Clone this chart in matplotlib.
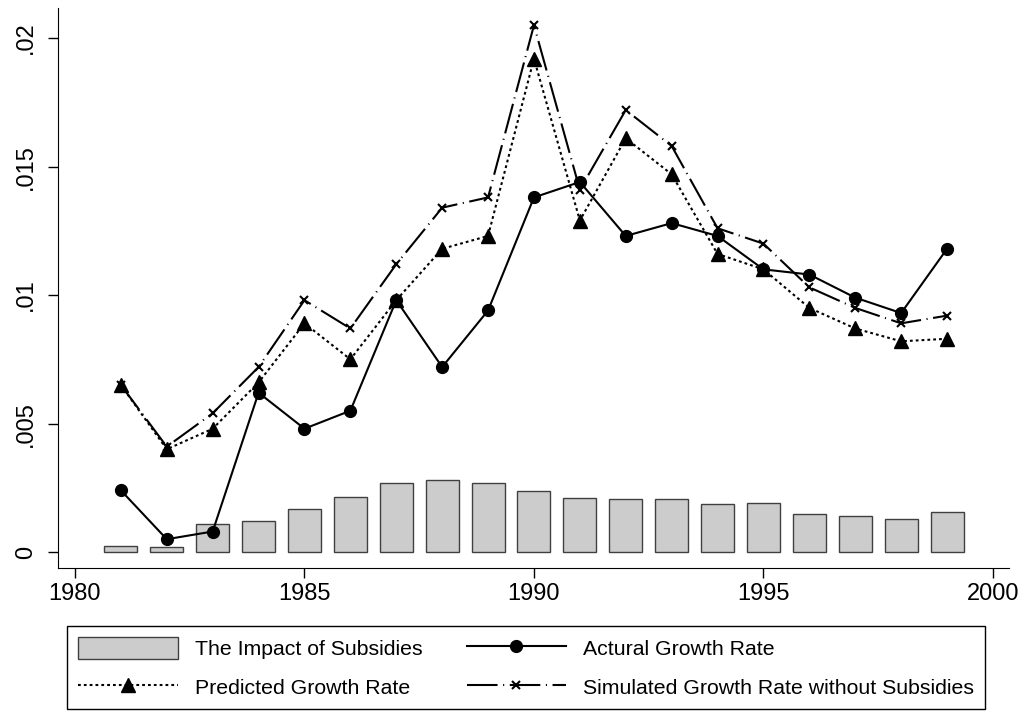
import matplotlib.pyplot as plt
import numpy as np

plt.rcParams['font.family'] = ['Liberation Sans', 'DejaVu Sans']
plt.rcParams['lines.scale_dashes'] = False

years = np.arange(1981, 2000)
subsidy = [0.00023, 0.00021, 0.00109, 0.0012, 0.00167, 0.00216, 0.00269, 0.00282, 0.0027,
           0.00236, 0.00211, 0.00206, 0.00205, 0.00186, 0.0019, 0.0015, 0.00142, 0.00127, 0.00155]
actual = [0.0024, 0.0005, 0.0008, 0.0062, 0.0048, 0.0055, 0.0098, 0.0072, 0.0094,
          0.0138, 0.0144, 0.0123, 0.0128, 0.0123, 0.0110, 0.0108, 0.0099, 0.0093, 0.0118]
predicted = [0.0065, 0.0040, 0.0048, 0.0066, 0.0089, 0.0075, 0.0098, 0.0118, 0.0123,
             0.0192, 0.0129, 0.0161, 0.0147, 0.0116, 0.0110, 0.0095, 0.0087, 0.0082, 0.0083]
simulated = [0.0065, 0.0041, 0.0054, 0.0072, 0.0098, 0.0087, 0.0112, 0.0134, 0.0138,
             0.0205, 0.0141, 0.0172, 0.0158, 0.0126, 0.0120, 0.0103, 0.0095, 0.0089, 0.0092]

fig = plt.figure(figsize=(10.26, 7.11), dpi=100)
ax = fig.add_axes([58/1026, 143/711, (1009-58)/1026, (568-8)/711])

bars = ax.bar(years, subsidy, width=0.72, color='#cccccc', edgecolor='#404040', linewidth=1,
              label='The Impact of Subsidies')
l_act, = ax.plot(years, actual, color='black', lw=1.5, marker='o', ms=8.5,
                 label='Actural Growth Rate')
l_pre, = ax.plot(years, predicted, color='black', lw=1.5, ls=(0, (2, 2.2)), marker='^', ms=9.5,
                 label='Predicted Growth Rate')
l_sim, = ax.plot(years, simulated, color='black', lw=1.5, ls=(0, (22, 4, 0.8, 4)), marker='x',
                 ms=6, mew=1.5, label='Simulated Growth Rate without Subsidies')

ax.set_xlim(1979.63, 2000.35)
ax.set_ylim(-0.00062, 0.02117)
ax.set_xticks([1980, 1985, 1990, 1995, 2000])
ax.set_yticks([0, 0.005, 0.01, 0.015, 0.02])
ax.set_yticklabels(['0', '.005', '.01', '.015', '.02'], rotation=90, va='center')
ax.tick_params(labelsize=17, length=7, width=1)
ax.tick_params(axis='y', pad=8)
for s in ['top', 'right']:
    ax.spines[s].set_visible(False)

leg = fig.legend([bars, l_pre, l_act, l_sim],
                 [bars.get_label(), l_pre.get_label(), l_act.get_label(), l_sim.get_label()],
                 ncol=2, loc='upper left', bbox_to_anchor=(67/1026, 1 - 626/711),
                 fontsize=15.3, handlelength=4.7, handleheight=1.22, handletextpad=0.8,
                 columnspacing=2.07, fancybox=False, edgecolor='black', framealpha=1,
                 borderpad=0.52, labelspacing=0.8, borderaxespad=0)
leg.get_frame().set_linewidth(1)

fig.savefig('out.png', dpi=100)
